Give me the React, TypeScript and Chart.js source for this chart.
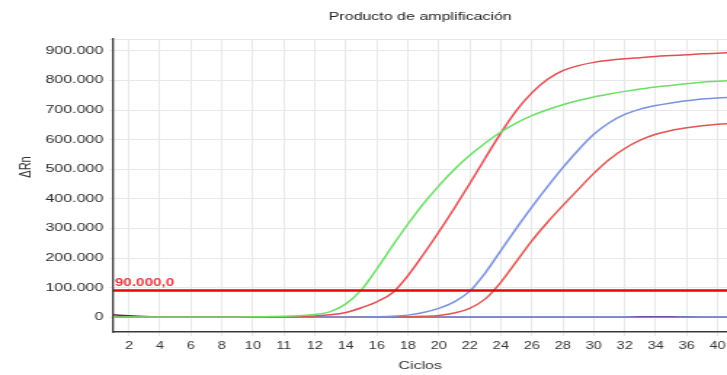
import React, { useEffect, useRef } from 'react';
import { Chart, registerables } from 'chart.js';

Chart.register(...registerables);

const chartTitle = 'Producto de amplificación';
const xTitle = 'Ciclos';
const yTitle = 'ΔRn';

const cycles = [1, 2, 3, 4, 5, 6, 7, 8, 9, 10, 11, 12, 13, 14, 15, 16, 17, 18, 19, 20, 21, 22, 23, 24, 25, 26, 27, 28, 29, 30, 31, 32, 33, 34, 35, 36, 37, 38, 39, 40, 41];

const greenSeries = [1000, 800, 600, 500, 500, 500, 600, 700, 900, 1200, 2000, 3000, 5000, 9000, 19000, 45000, 92000, 163000, 240000, 314000, 383000, 444000, 499000, 547000, 589000, 626000, 656000, 681000, 701000, 718000, 732000, 744000, 754000, 763000, 771000, 778000, 783000, 789000, 794000, 797000, 800000];
const redEarlySeries = [500, 400, 300, 300, 300, 300, 300, 400, 500, 600, 800, 1200, 2000, 4000, 8000, 16000, 32000, 52000, 82000, 140000, 212000, 288000, 368000, 452000, 538000, 622000, 698000, 758000, 803000, 833000, 850000, 861000, 868000, 873000, 877000, 881000, 884000, 887000, 890000, 892000, 894000];
const blueSeries = [300, 300, 300, 300, 300, 300, 300, 300, 300, 300, 300, 300, 400, 500, 600, 800, 1000, 1500, 3000, 7000, 16000, 30000, 52000, 88000, 150000, 225000, 300000, 372000, 440000, 505000, 565000, 618000, 657000, 685000, 703000, 715000, 724000, 731000, 737000, 741000, 743000];
const redLateSeries = [200, 200, 200, 200, 200, 200, 200, 200, 200, 200, 200, 200, 200, 300, 300, 400, 500, 700, 1000, 1500, 3000, 6000, 14000, 30000, 62000, 118000, 188000, 258000, 320000, 377000, 432000, 486000, 533000, 570000, 598000, 618000, 631000, 640000, 647000, 652000, 655000];
const ntcBlueSeries = [0, 0, 0, 0, 0, 0, 0, 0, 0, 0, 0, 0, 0, 0, 0, 0, 0, 0, 0, 0, 0, 0, 0, 0, 0, 0, 0, 0, 0, 0, 0, 0, 0, 0, 0, 0, 0, 0, 0, 0, 0];
const ntcMaroonSeries = [8000, 5000, 2500, 1000, 500, 300, 200, 200, 200, 200, 200, 200, 200, 200, 200, 200, 200, 200, 200, 200, 200, 200, 200, 200, 200, 200, 200, 200, 200, 200, 200, 200, 200, 200, 1200, 1600, 1200, 300, 200, 200, 200];

const thresholdValue = 90000;
const thresholdLabel = '90.000,0';

const xTickValues = [2, 4, 6, 8, 10, 12, 14, 16, 18, 20, 22, 24, 26, 28, 30, 32, 34, 36, 38, 40];
const xTickLabels = ['2', '4', '6', '8', '10', '11', '12', '14', '16', '18', '20', '22', '24', '26', '28', '30', '32', '34', '36', '40'];
const yTickValues = [0, 100000, 200000, 300000, 400000, 500000, 600000, 700000, 800000, 900000, 940000];

const FONT = '"Liberation Sans", Arial, sans-serif';

function fmtThousands(v: number): string {
  if (v === 0) return '0';
  return String(Math.round(v)).replace(/\B(?=(\d{3})+(?!\d))/g, '.');
}

const toPoints = (arr: number[]) => arr.map((y, i) => ({ x: cycles[i], y }));

export default function App() {
  const ref = useRef<HTMLCanvasElement | null>(null);

  useEffect(() => {
    const canvas = ref.current;
    if (!canvas) return;

    const overlay = {
      id: 'overlayText',
      afterDraw(chart: any) {
        const { ctx, chartArea, scales } = chart;
        ctx.save();
        ctx.font = `11px ${FONT}`;
        ctx.fillStyle = '#222';
        ctx.textAlign = 'center';
        ctx.textBaseline = 'middle';
        ctx.fillText(chartTitle, (chartArea.left + chartArea.right) / 2, 17);
        ctx.save();
        ctx.translate(18, 167);
        ctx.rotate(-Math.PI / 2);
        ctx.fillStyle = '#333';
        ctx.fillText(yTitle, 0, 0);
        ctx.restore();
        const ty = scales.y.getPixelForValue(thresholdValue);
        ctx.font = `bold 10.5px ${FONT}`;
        ctx.fillStyle = '#e0383c';
        ctx.textAlign = 'left';
        ctx.textBaseline = 'alphabetic';
        ctx.fillText(thresholdLabel, chartArea.left + 1, ty - 5);
        ctx.restore();
      },
    };

    const line = (label: string, data: number[], color: string, width = 1.5) => ({
      label,
      data: toPoints(data),
      borderColor: color,
      backgroundColor: color,
      borderWidth: width,
      pointRadius: 0,
      cubicInterpolationMode: 'monotone' as const,
      fill: false,
    });

    const chart = new Chart(canvas, {
      type: 'line',
      data: {
        datasets: [
          {
            label: 'Umbral',
            data: [{ x: 1, y: thresholdValue }, { x: 41, y: thresholdValue }],
            borderColor: 'rgba(222, 10, 10, 1)',
            borderWidth: 2.6,
            pointRadius: 0,
            fill: false,
          },
          line('Muestra 1', greenSeries, 'rgb(110, 222, 105)'),
          line('Muestra 2', redEarlySeries, 'rgb(226, 78, 82)'),
          line('Muestra 3', blueSeries, 'rgb(122, 146, 222)'),
          line('Muestra 4', redLateSeries, 'rgb(222, 88, 82)'),
          line('NTC 1', ntcBlueSeries, 'rgb(110, 135, 225)'),
          line('NTC 2', ntcMaroonSeries, 'rgb(90, 40, 90)'),
        ],
      },
      options: {
        responsive: false,
        animation: false,
        devicePixelRatio: 1,
        layout: { padding: { top: 39, left: 0, right: 0, bottom: 0 } },
        plugins: {
          legend: { display: false },
          title: { display: false },
          tooltip: { enabled: false },
        },
        scales: {
          x: {
            type: 'linear',
            min: 1,
            max: 40.6,
            afterBuildTicks: (scale: any) => {
              scale.ticks = xTickValues.map((v) => ({ value: v }));
            },
            afterFit: (scale: any) => {
              scale.height = 43;
              scale.paddingRight = 0;
              scale.paddingLeft = 0;
            },
            ticks: {
              autoSkip: false,
              maxRotation: 0,
              padding: 4,
              color: '#333',
              font: { family: FONT, size: 10 },
              callback: (_v: any, i: number) => xTickLabels[i],
            },
            grid: { color: '#e8e8e8', lineWidth: 1, tickLength: 4 },
            border: { color: '#3a3a3a', width: 1.5 },
            title: {
              display: true,
              text: xTitle,
              color: '#333',
              font: { family: FONT, size: 11 },
              padding: { top: 0, bottom: 2 },
            },
          },
          y: {
            type: 'linear',
            min: -50000,
            max: 940000,
            afterBuildTicks: (scale: any) => {
              scale.ticks = yTickValues.map((v) => ({ value: v }));
            },
            afterFit: (scale: any) => {
              scale.width = 78;
            },
            ticks: {
              padding: 4,
              color: '#2a2a2a',
              font: { family: FONT, size: 11 },
              callback: (v: any) => (v > 900000 ? '' : fmtThousands(Number(v))),
            },
            grid: { color: '#e8e8e8', lineWidth: 1, tickLength: 3 },
            border: { color: '#3a3a3a', width: 1.3 },
          },
        },
      },
      plugins: [overlay],
    });

    return () => chart.destroy();
  }, []);

  return (
    <div style={{ position: 'absolute', left: 0, top: 0, width: 727, height: 375, background: '#fff' }}>
      <canvas ref={ref} width={500} height={375} style={{ width: '727px', height: '375px', display: 'block' }} />
    </div>
  );
}
